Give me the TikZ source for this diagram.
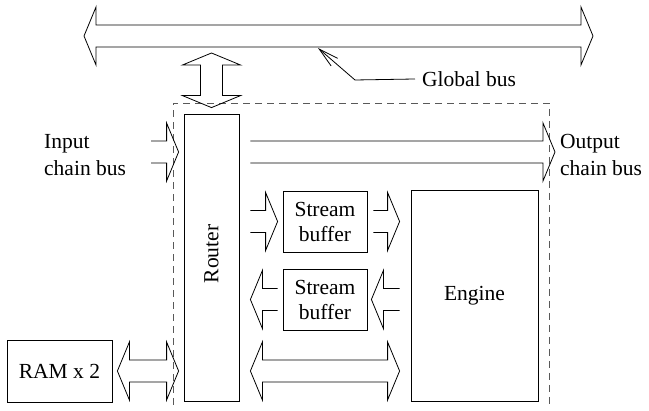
\documentclass[tikz,border=0pt]{standalone}
\usepackage{fontspec}
\setmainfont{Liberation Serif}
\usetikzlibrary{calc,arrows.meta}

% bus arrow sizes
\newcommand{\busw}{11pt}
\newcommand{\headw}{29pt}
\newcommand{\headl}{12pt}

% one-way bus, open at the tail
\newcommand{\onebus}[2]{%
  \coordinate (hb) at ($(#2)!\headl!(#1)$);
  \draw[bus] ($(#1)!\busw!90:(#2)$) -- ($(hb)!\busw!-90:(#1)$)
    -- ($(hb)!\headw!-90:(#1)$) -- (#2) -- ($(hb)!\headw!90:(#1)$)
    -- ($(hb)!\busw!90:(#1)$) -- ($(#1)!\busw!-90:(#2)$);}

% two-way bus
\newcommand{\twobus}[2]{%
  \coordinate (ha) at ($(#1)!\headl!(#2)$);
  \coordinate (hb) at ($(#2)!\headl!(#1)$);
  \draw[bus] (#1) -- ($(ha)!\headw!90:(#2)$) -- ($(ha)!\busw!90:(#2)$)
    -- ($(hb)!\busw!-90:(#1)$) -- ($(hb)!\headw!-90:(#1)$) -- (#2)
    -- ($(hb)!\headw!90:(#1)$) -- ($(hb)!\busw!90:(#1)$)
    -- ($(ha)!\busw!-90:(#2)$) -- ($(ha)!\headw!-90:(#2)$) -- cycle;}

\tikzset{
  box/.style={draw, line width=0.8pt, inner sep=0pt, align=center},
  bus/.style={line width=0.8pt, line join=miter},
  tag/.style={inner sep=0pt, anchor=west, align=left, font=\rmfamily\fontsize{21.5pt}{27pt}\selectfont},
  frame/.style={draw=black!65, line width=0.8pt, dash pattern=on 7pt off 5pt},
  leader/.style={line width=0.8pt, -{Straight Barb[length=20pt, width=10pt]}}
}

\begin{document}
\begin{tikzpicture}[x=1pt, y=-1pt, font=\rmfamily\fontsize{21.5pt}{25pt}\selectfont]
    \useasboundingbox (0,0) rectangle (649,411);

    % Boundary of the unit
    \draw[frame] (173,405) -- (173,103) -- (549,103) -- (549,405);

    % Blocks
    \node[box, minimum width=55pt, minimum height=287pt] (router) at (211.5,257.5) {};
    \node[rotate=90] at (211.5,254) {Router};
    \node[box, minimum width=84pt, minimum height=61pt] (sbin) at (325,221.5) {Stream\\buffer};
    \node[box, minimum width=84pt, minimum height=61pt] (sbout) at (325,299.5) {Stream\\buffer};
    \node[box, minimum width=127pt, minimum height=211pt] (engine) at (474.5,295.5) {Engine};
    \node[box, minimum width=105pt, minimum height=62pt] (ram) at (59.5,371) {RAM x 2};

    % Labels
    \node[tag] (inlabel) at (44,155) {Input\\chain bus};
    \node[tag] (outlabel) at (560,155) {Output\\chain bus};
    \node[tag] (gblabel) at (422,79) {Global bus};

    % Bus end points
    \coordinate (gbl) at (84,36);
    \coordinate (gbr) at (593,36);
    \coordinate (gbdown) at ($(router.north |- gbr)+(0,17)$);
    \coordinate (rtop) at ($(router.north)+(0,-6)$);
    \coordinate (chainin) at (151,152);
    \coordinate (inend) at (chainin -| router.west);
    \coordinate (chainout) at (555,152);
    \coordinate (outstart) at (chainin -| router.east);
    \coordinate (sbinL) at (sbin.west -| router.east);
    \coordinate (sbinR) at (sbin.east -| engine.west);
    \coordinate (sboutL) at (sbout.west -| router.east);
    \coordinate (sboutR) at (sbout.east -| engine.west);
    \coordinate (ramrow) at (ram.east -| router.west);
    \coordinate (engrowL) at (ram.east -| router.east);
    \coordinate (engrowR) at (ram.east -| engine.west);

    % Buses
    \twobus{gbl}{gbr}
    \twobus{gbdown}{rtop}
    \onebus{chainin}{$(inend)+(-5,0)$}
    \onebus{$(outstart)+(11,0)$}{chainout}
    \onebus{$(sbinL)+(11,0)$}{$(sbin.west)+(-5,0)$}
    \onebus{$(sbin.east)+(6,0)$}{$(sbinR)+(-11,0)$}
    \onebus{$(sboutR)+(-11,0)$}{$(sbout.east)+(4,0)$}
    \onebus{$(sbout.west)+(-5,0)$}{$(sboutL)+(11,0)$}
    \twobus{$(engrowL)+(11,0)$}{$(engrowR)+(-11,0)$}
    \twobus{$(ram.east)+(5,0)$}{$(ramrow)+(-5,0)$}

    % Global bus pointer
    \coordinate (gbbend) at (355,80);
    \coordinate (gbtip) at (318,48);
    \draw[leader] ([xshift=-7pt]gblabel.west) -- (gbbend) -- (gbtip);

\end{tikzpicture}
\end{document}
